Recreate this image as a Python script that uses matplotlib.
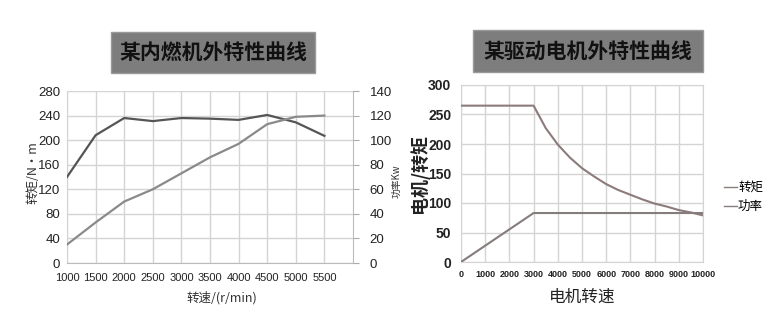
import matplotlib.pyplot as plt
from matplotlib.patches import Rectangle
from matplotlib.lines import Line2D

# data
ice_rpm = [1000, 1500, 2000, 2500, 3000, 3500, 4000, 4500, 5000, 5500]
ice_torque = [140, 208, 236, 231, 236, 235, 233, 241, 229, 207]
ice_power = [15, 33, 50, 60, 73, 86, 97, 113, 119, 120]

motor_rpm = [0, 3000, 3500, 4000, 4500, 5000, 5500, 6000, 6500, 7000,
             7500, 8000, 8500, 9000, 9500, 10000]
motor_torque = [265, 265, 227, 199, 177, 159, 145, 132, 122, 114,
                106, 99, 94, 88, 84, 79]
motor_power_rpm = [0, 3000, 10000]
motor_power = [0, 83, 83]

cjk = ['Noto Sans CJK SC', 'DejaVu Sans']
num = ['Liberation Sans', 'DejaVu Sans']
plt.rcParams['font.family'] = cjk

W, H = 769, 315
fig = plt.figure(figsize=(W / 100, H / 100), dpi=100)


def box(x0, y0, x1, y1):
    return [x0 / W, 1 - y1 / H, (x1 - x0) / W, (y1 - y0) / H]


def title(x0, y0, x1, y1, s):
    fig.patches.append(Rectangle((x0 / W, 1 - y1 / H), (x1 - x0) / W, (y1 - y0) / H,
                                 transform=fig.transFigure, facecolor='#7d7d7d',
                                 edgecolor='#9a9a9a', lw=1))
    fig.text((x0 + x1) / 2 / W, 1 - (y0 + y1) / 2 / H, s, ha='center', va='center',
             fontsize=15, fontweight='bold', color='#111111')


grid_c = '#d4d4d4'

# ---- left: internal combustion engine
title(111, 32, 315, 73, '某内燃机外特性曲线')
ax1 = fig.add_axes(box(67, 91, 353, 263))
ax1.plot(ice_rpm, ice_torque, color='#555555', lw=1.6, zorder=3)
ax1.set_xlim(1000, 6000)
ax1.set_ylim(0, 280)
ax1.set_xticks(range(1000, 6000, 500))
ax1.set_yticks(range(0, 281, 40))
ax1.grid(True, color=grid_c, lw=1)
ax1.tick_params(length=0, colors='#222222')
ax1.tick_params(axis='x', labelsize=8, pad=7)
ax1.tick_params(axis='y', labelsize=9.5, pad=5)
for lab in ax1.get_xticklabels() + ax1.get_yticklabels():
    lab.set_family(num)
for s in ['top', 'right']:
    ax1.spines[s].set_visible(False)
ax1.spines['left'].set_color(grid_c)
ax1.spines['bottom'].set_color('#bbbbbb')

ax1b = ax1.twinx()
ax1b.plot(ice_rpm, ice_power, color='#8a8a8a', lw=1.6, zorder=3)
ax1b.set_ylim(0, 140)
ax1b.set_yticks(range(0, 141, 20))
ax1b.tick_params(length=4, color='#aaaaaa', labelsize=9.5, labelcolor='#222222', pad=8)
for lab in ax1b.get_yticklabels():
    lab.set_family(num)
for s in ['top', 'left', 'bottom']:
    ax1b.spines[s].set_visible(False)
ax1b.spines['right'].set_color('#bbbbbb')

fig.text(33 / W, 1 - 173 / H, '转矩/N·m', rotation=90, ha='center', va='center',
         fontsize=9, color='#333333')
fig.text(397 / W, 1 - 181 / H, '功率Kw', rotation=90, ha='center', va='center',
         fontsize=7, color='#333333')
fig.text(222 / W, 1 - 298 / H, '转速/(r/min)', ha='center', va='center',
         fontsize=9, color='#333333')

# ---- right: drive motor
title(473, 30, 703, 72, '某驱动电机外特性曲线')
ax2 = fig.add_axes(box(461, 85, 703, 262))
ax2.plot(motor_rpm, motor_torque, color='#8c7b7b', lw=1.5, zorder=3)
ax2.plot(motor_power_rpm, motor_power, color='#857c7c', lw=1.5, zorder=3)
ax2.set_xlim(0, 10000)
ax2.set_ylim(0, 300)
ax2.set_xticks(range(0, 10001, 1000))
ax2.set_yticks(range(0, 301, 50))
ax2.grid(True, color=grid_c, lw=1)
ax2.tick_params(length=0)
ax2.tick_params(axis='x', labelsize=6.5, pad=6)
ax2.tick_params(axis='y', labelsize=10, pad=7)
for lab in ax2.get_xticklabels() + ax2.get_yticklabels():
    lab.set_family(num)
    lab.set_fontweight('bold')
    lab.set_color('#222222')
for s in ax2.spines.values():
    s.set_color(grid_c)

fig.text(419 / W, 1 - 173 / H, '电机/转矩', rotation=90, ha='center', va='center',
         fontsize=13, fontweight='bold', color='#222222')
fig.text(582 / W, 1 - 297 / H, '电机转速', ha='center', va='center',
         fontsize=12, color='#222222')

handles = [Line2D([], [], color='#8c7b7b', lw=1), Line2D([], [], color='#857c7c', lw=1)]
fig.legend(handles, ['转矩', '功率'], loc='center left',
           bbox_to_anchor=(718 / W, 1 - 197 / H), frameon=False, fontsize=9,
           handlelength=1.0, handletextpad=0.1, labelspacing=0.5, borderpad=0)

fig.savefig('out.png', dpi=100)
